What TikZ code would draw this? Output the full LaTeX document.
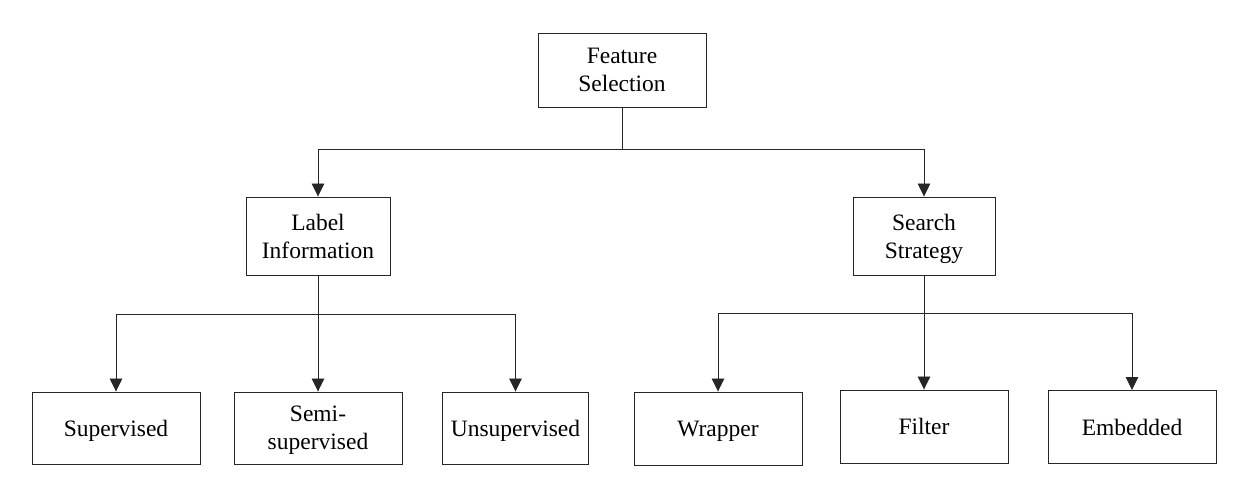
\documentclass[tikz,border=0pt]{standalone}
\usepackage{fontspec}
\setmainfont{Liberation Serif}
\usetikzlibrary{arrows.meta}
\begin{document}
\begin{tikzpicture}[x=1pt,y=1pt,
  box/.style={draw=black!85,line width=0.9pt,rectangle,align=center,inner sep=0pt,
    text depth=0pt,font=\fontsize{23.5}{28}\selectfont},
  arr/.style={draw=black!85,line width=0.9pt,-{Triangle[width=12.5pt,length=13pt]}},
  ln/.style={draw=black!85,line width=0.9pt}]
\useasboundingbox (0,0) rectangle (1235,478);
\node[box,minimum width=168pt,minimum height=74pt] (fs) at (622,408) {Feature\\Selection};
\node[box,minimum width=144pt,minimum height=78pt] (li) at (318,242) {Label\\Information};
\node[box,minimum width=142pt,minimum height=78pt] (ss) at (924,242) {Search\\Strategy};
\node[box,minimum width=168pt,minimum height=72pt] (sup) at (116,50) {Supervised};
\node[box,minimum width=168pt,minimum height=72pt] (semi) at (318,50) {Semi-\\supervised};
\node[box,minimum width=146pt,minimum height=72pt] (uns) at (515.5,50) {Unsupervised};
\node[box,minimum width=168pt,minimum height=73pt] (wr) at (718,49.5) {Wrapper};
\node[box,minimum width=168pt,minimum height=73pt] (fi) at (924,51.5) {Filter};
\node[box,minimum width=168pt,minimum height=73pt] (em) at (1132,51) {Embedded};
\coordinate (j1) at (622,329);
\coordinate (j2) at (318,164);
\coordinate (j3) at (924,165);
\draw[ln] (fs.south) -- (j1);
\draw[arr] (j1) -| (li.north);
\draw[arr] (j1) -| (ss.north);
\draw[arr] (li.south) -- (semi.north);
\draw[arr] (j2) -| (sup.north);
\draw[arr] (j2) -| (uns.north);
\draw[arr] (ss.south) -- (fi.north);
\draw[arr] (j3) -| (wr.north);
\draw[arr] (j3) -| (em.north);
\end{tikzpicture}
\end{document}
